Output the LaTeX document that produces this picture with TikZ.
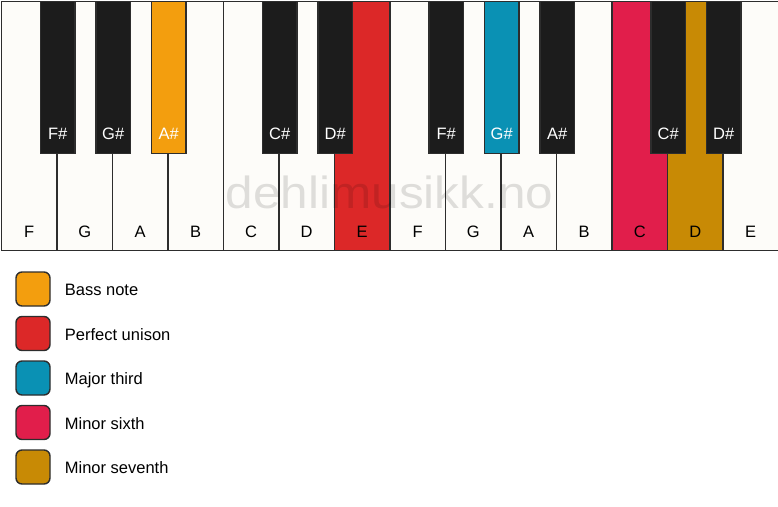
\documentclass[tikz,border=0pt]{standalone}
\usepackage{fontspec}
\setmainfont{Liberation Sans}
\usetikzlibrary{positioning}
\definecolor{keywhite}{RGB}{253,252,249}
\definecolor{keyblack}{RGB}{28,28,28}
\definecolor{keyline}{RGB}{45,45,45}
\definecolor{bassnote}{RGB}{243,158,14}
\definecolor{unison}{RGB}{220,40,40}
\definecolor{majthird}{RGB}{10,145,180}
\definecolor{minsixth}{RGB}{225,30,75}
\definecolor{minseventh}{RGB}{200,138,5}
\tikzset{
  wkey/.style={draw=keyline, line width=1.5pt, anchor=north west, inner sep=0pt,
               minimum width=55.5pt, minimum height=249pt},
  bkey/.style={draw=keyline, line width=1.5pt, anchor=north, inner sep=0pt,
               minimum width=34.5pt, minimum height=152pt},
  wlab/.style={font=\fontsize{16.5}{19}\selectfont, text=black, inner sep=0pt},
  blab/.style={font=\fontsize{16.5}{19}\selectfont, text=white, inner sep=0pt},
  legbox/.style={draw=keyline, line width=1.4pt, rounded corners=6pt, inner sep=0pt,
                 minimum width=34pt, minimum height=34pt},
  legtxt/.style={font=\fontsize{16.5}{19}\selectfont, inner sep=0pt, anchor=west,
                 text height=14.5pt, text depth=1.5pt},
  wmark/.style={font=\fontsize{45}{50}\selectfont, text=black, text opacity=0.12, inner sep=0pt},
}

\begin{document}
\begin{tikzpicture}[x=1pt,y=1pt]
    \useasboundingbox (0,0) rectangle (778,-506);
    % white keys
    \foreach \n/\col [count=\i from 0] in {F/keywhite,G/keywhite,A/keywhite,B/keywhite,
        C/keywhite,D/keywhite,E/unison,F/keywhite,G/keywhite,A/keywhite,B/keywhite,
        C/minsixth,D/minseventh,E/keywhite}{
      \node[wkey, fill=\col] (w\i) at (\i*55.5+0.7,-0.7) {};
      \node[wlab] (wl\i) at ([yshift=19pt]w\i.south) {\n};
    }
    \node[wmark] (wm) at (389.5,-192) {\scalebox{1.1}[1]{dehlimusikk.no}};
    % black keys
    \foreach \p/\n/\col [count=\j] in {0/F/keyblack,1/G/keyblack,2/A/bassnote,
        4/C/keyblack,5/D/keyblack,7/F/keyblack,8/G/majthird,9/A/keyblack,
        11/C/keyblack,12/D/keyblack}{
      \node[bkey, fill=\col] (b\j) at (w\p.north east) {};
      \node[blab] (bl\j) at ([yshift=20pt]b\j.south) {\n\#};
    }
    % legend
    \foreach \col/\txt [count=\k from 0] in {bassnote/Bass note,unison/Perfect unison,
        majthird/Major third,minsixth/Minor sixth,minseventh/Minor seventh}{
      \node[legbox, fill=\col] (lg\k) at (33,-289-\k*44.5) {};
      \node[legtxt, right=14pt of lg\k] (lt\k) {\txt};
    }
\end{tikzpicture}
\end{document}
